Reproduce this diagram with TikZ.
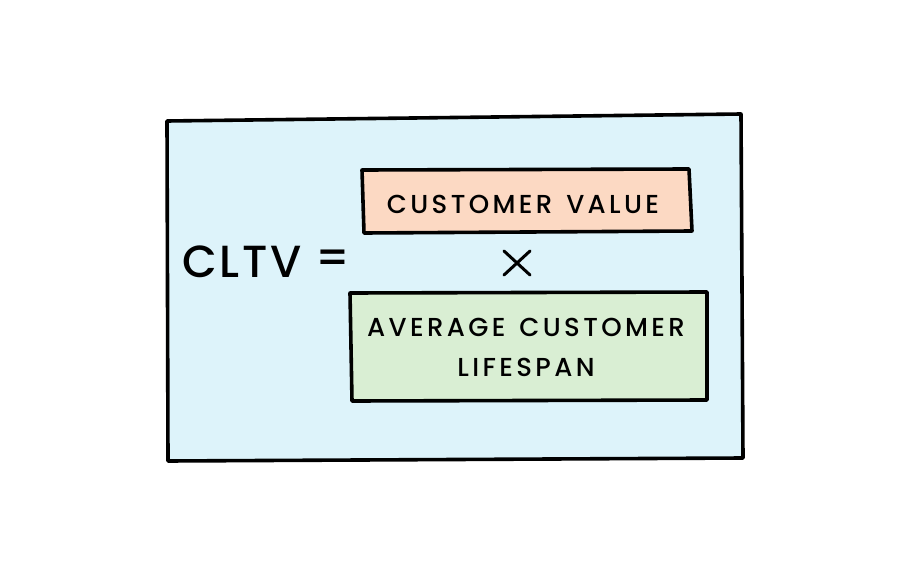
\documentclass[tikz,border=0pt]{standalone}
\usepackage{fontspec}
\setmainfont{Poppins}[UprightFont={* Medium}]
\definecolor{panelblue}{HTML}{DDF3FA}
\definecolor{peach}{HTML}{FCD9C3}
\definecolor{mint}{HTML}{D9EED3}
\newcommand{\gap}{\hspace{14pt}}
\tikzset{
  ink/.style={draw=black, line width=3.6pt, line join=round, line cap=round},
  hand/.style={font=\fontsize{26}{26}\selectfont\addfontfeatures{LetterSpace=13}, text=black, inner sep=0pt},
}
\begin{document}
\begin{tikzpicture}[x=1pt,y=-1pt]
\useasboundingbox[fill=white] (0,0) rectangle (900,575);
% outer panel
\filldraw[ink, fill=panelblue] (167,121) -- (741,114) -- (743,458) -- (168,461) -- cycle;
\coordinate (panel) at (455,288);
% boxes
\filldraw[ink, fill=peach] (362,170) -- (689,169) -- (692,231) -- (364,233) -- cycle;
\node[hand] (cv) at (523,204) {CUSTOMER\gap VALUE};
\filldraw[ink, fill=mint] (350,293) -- (707,292) -- (707,400) -- (352,401) -- cycle;
\node[hand, align=center, font=\fontsize{26}{40}\selectfont\addfontfeatures{LetterSpace=13}] (acl) at (526,347) {AVERAGE\gap CUSTOMER\\LIFESPAN};
% formula
\node[font=\fontsize{45}{45}\selectfont\addfontfeatures{LetterSpace=6}, inner sep=0pt] (cltv) at (242,262) {CLTV};
\node[font=\fontsize{45}{45}\selectfont, inner sep=0pt] (eq) at (333,262) {=};
\coordinate (times) at (517,263);
\draw[line width=3pt, line cap=round] ([shift={(-13,-12)}]times) -- ([shift={(13,12)}]times)
  ([shift={(-13,12)}]times) -- ([shift={(13,-12)}]times);
\end{tikzpicture}
\end{document}
